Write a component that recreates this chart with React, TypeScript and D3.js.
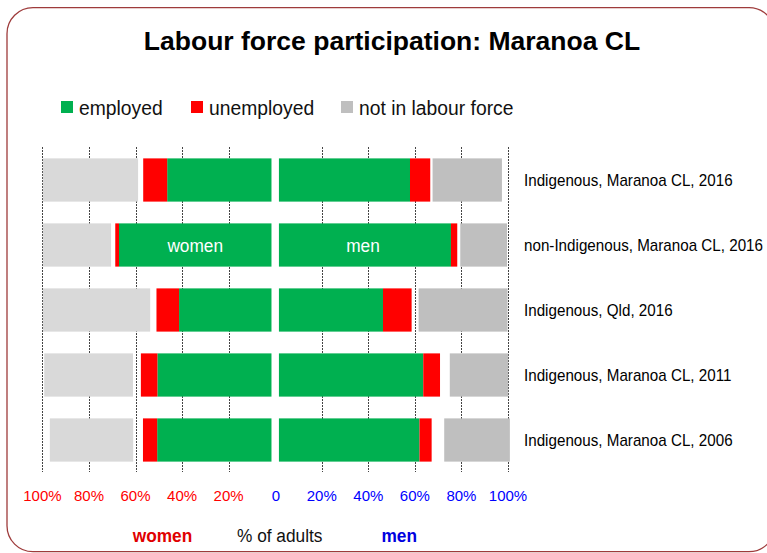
import React from 'react';
import * as d3 from 'd3';

// rows, top to bottom
const categories = [
  'Indigenous, Maranoa CL, 2016',
  'non-Indigenous, Maranoa CL, 2016',
  'Indigenous, Qld, 2016',
  'Indigenous, Maranoa CL, 2011',
  'Indigenous, Maranoa CL, 2006',
];

// % of adults
const womenEmployed = [44.8, 65.5, 39.7, 49.0, 49.1];
const womenUnemployed = [10.3, 1.6, 9.7, 7.1, 6.1];
const womenNotStated = [2.2, 1.8, 2.7, 3.4, 4.2];
const womenNotInLF = [40.9, 29.3, 46.1, 38.1, 35.8];

const menEmployed = [56.3, 73.9, 44.7, 62.0, 60.4];
const menUnemployed = [8.7, 2.7, 12.3, 7.2, 5.2];
const menNotStated = [1.0, 1.3, 3.0, 4.2, 5.4];
const menNotInLF = [29.8, 20.1, 38.2, 25.1, 28.2];

const tickValues = [0, 20, 40, 60, 80, 100];
const legendItems = ['employed', 'unemployed', 'not in labour force'];

const W = 767;
const H = 553;
const FONT = '"Liberation Sans", Arial, Helvetica, sans-serif';
const GREEN = '#00B050';
const RED = '#FF0000';
const keys = ['emp', 'unemp', 'ns', 'nilf'];
const SPACER = 1.6; // gap either side of the centre line, in % units

const centre = 275.2;
const half = 232.8;

const xW = d3.scaleLinear().domain([0, 100]).range([centre, centre - half]);
const xM = d3.scaleLinear().domain([0, 100]).range([centre, centre + half]);
const y = d3.scaleBand<string>()
  .domain(categories)
  .range([147.5, 472.5])
  .paddingInner(0.335)
  .paddingOuter(0.1675);

const womenRows = categories.map((c, i) => ({
  cat: c, emp: womenEmployed[i], unemp: womenUnemployed[i], ns: womenNotStated[i], nilf: womenNotInLF[i],
}));
const menRows = categories.map((c, i) => ({
  cat: c, emp: menEmployed[i], unemp: menUnemployed[i], ns: menNotStated[i], nilf: menNotInLF[i],
}));

const stack = d3.stack<any>().keys(keys);
const womenStack = stack(womenRows);
const menStack = stack(menRows);

const womenColors: Record<string, string> = { emp: GREEN, unemp: RED, ns: 'none', nilf: '#D9D9D9' };
const menColors: Record<string, string> = { emp: GREEN, unemp: RED, ns: 'none', nilf: '#BFBFBF' };
const legendColors = [GREEN, RED, '#BFBFBF'];
const legendX = [61, 191, 341];

function Label({ x, y, size, sx = 1, anchor = 'start', weight = 'normal', fill = '#000', children }: any) {
  return (
    <text
      transform={`translate(${x},${y}) scale(${sx},1)`}
      fontSize={size}
      fontWeight={weight}
      textAnchor={anchor}
      fill={fill}
      fontFamily={FONT}
    >
      {children}
    </text>
  );
}

export default function App() {
  const bw = y.bandwidth();
  const grid = tickValues.filter(v => v > 0);

  return (
    <svg width={W} height={H} style={{ position: 'absolute', left: 0, top: 0 }}>
      <rect x={7} y={7.7} width={768} height={544} rx={26} fill="#fff" stroke="#9E3B3B" strokeWidth={1.3} />

      <Label x={392} y={50} size={26} sx={1.02} anchor="middle" weight="bold">
        Labour force participation: Maranoa CL
      </Label>

      {legendItems.map((t, i) => (
        <g key={t}>
          <rect x={legendX[i]} y={101} width={12} height={12} fill={legendColors[i]} />
          <Label x={legendX[i] + 18} y={114.5} size={21} sx={0.92} fill="#111">{t}</Label>
        </g>
      ))}

      {/* dotted gridlines */}
      <g stroke="#444" strokeWidth={1} strokeDasharray="2,1">
        {grid.map(v => (
          <line key={'w' + v} x1={Math.round(xW(v)) + 0.5} x2={Math.round(xW(v)) + 0.5} y1={147} y2={472} />
        ))}
        {grid.map(v => (
          <line key={'m' + v} x1={Math.round(xM(v)) + 0.5} x2={Math.round(xM(v)) + 0.5} y1={147} y2={472} />
        ))}
      </g>

      {/* women, to the left */}
      {womenStack.map(s => (
        <g key={'w' + s.key} fill={womenColors[s.key]}>
          {s.map(d => (
            <rect
              key={d.data.cat}
              x={xW(d[1] + SPACER)}
              y={y(d.data.cat)}
              width={xW(d[0] + SPACER) - xW(d[1] + SPACER)}
              height={bw}
            />
          ))}
        </g>
      ))}

      {/* men, to the right */}
      {menStack.map(s => (
        <g key={'m' + s.key} fill={menColors[s.key]}>
          {s.map(d => (
            <rect
              key={d.data.cat}
              x={xM(d[0] + SPACER)}
              y={y(d.data.cat)}
              width={xM(d[1] + SPACER) - xM(d[0] + SPACER)}
              height={bw}
            />
          ))}
        </g>
      ))}

      {/* labels inside the non-Indigenous row */}
      <Label
        x={(xW(SPACER) + xW(SPACER + womenEmployed[1])) / 2}
        y={(y(categories[1]) as number) + bw / 2 + 6.5}
        size={19} sx={0.91} anchor="middle" fill="#fff"
      >
        women
      </Label>
      <Label
        x={(xM(SPACER) + xM(SPACER + menEmployed[1])) / 2 - 2}
        y={(y(categories[1]) as number) + bw / 2 + 6.5}
        size={19} sx={0.91} anchor="middle" fill="#fff"
      >
        men
      </Label>

      {categories.map(c => (
        <Label key={c} x={524} y={(y(c) as number) + bw / 2 + 6} size={16} sx={0.95}>{c}</Label>
      ))}

      {/* axis tick labels */}
      {tickValues.filter(v => v > 0).map(v => (
        <Label key={'wt' + v} x={xW(v)} y={500.5} size={15} anchor="middle" fill={RED}>{v + '%'}</Label>
      ))}
      <Label x={centre + 0.8} y={500.5} size={15} anchor="middle" fill="#0000FF">0</Label>
      {tickValues.filter(v => v > 0).map(v => (
        <Label key={'mt' + v} x={xM(v)} y={500.5} size={15} anchor="middle" fill="#0000FF">{v + '%'}</Label>
      ))}

      <Label x={162.5} y={541.5} size={18} sx={0.96} anchor="middle" weight="bold" fill="#E00000">women</Label>
      <Label x={279.7} y={541.5} size={18} sx={0.96} anchor="middle" fill="#111">% of adults</Label>
      <Label x={399.2} y={541.5} size={18} sx={0.96} anchor="middle" weight="bold" fill="#0000E0">men</Label>
    </svg>
  );
}
